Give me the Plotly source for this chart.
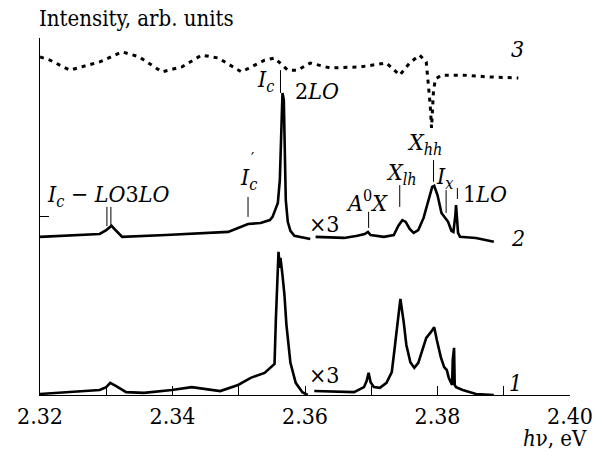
import plotly.graph_objects as go

# ---------------- data ----------------
e1a = [2.3200, 2.3290, 2.3300, 2.3306, 2.3315, 2.3330, 2.3357, 2.3399, 2.3429, 2.3472,
       2.3499, 2.3518, 2.3539, 2.3554, 2.3556, 2.3559, 2.3560, 2.3562, 2.3563, 2.3566,
       2.3569, 2.3572, 2.3575, 2.3578, 2.3586, 2.3596, 2.3604]
i1a = [0.03, 0.14, 0.22, 0.34, 0.25, 0.08, 0.06, 0.14, 0.22, 0.11,
       0.28, 0.48, 0.62, 0.87, 2.10, 3.73, 4.01, 3.56, 3.84, 3.36,
       2.80, 1.96, 1.40, 0.90, 0.34, 0.08, 0.00]
e1b = [2.3614, 2.3674, 2.3689, 2.3693, 2.3696, 2.3699, 2.3704, 2.3713, 2.3723, 2.3731,
       2.3735, 2.3740, 2.3744, 2.3749, 2.3753, 2.3759, 2.3765, 2.3771, 2.3777, 2.3783,
       2.3790, 2.3795, 2.3799, 2.3805, 2.3810, 2.3814, 2.3817, 2.3820, 2.3822, 2.3823,
       2.3825, 2.3826, 2.3828, 2.3838, 2.3858, 2.3885]
i1b = [0.11, 0.08, 0.22, 0.39, 0.62, 0.36, 0.22, 0.20, 0.34, 0.64,
       1.26, 2.10, 2.69, 2.04, 1.40, 0.92, 0.76, 0.90, 1.26, 1.60,
       1.76, 1.90, 1.54, 1.06, 0.78, 0.70, 0.48, 0.34, 0.28, 0.98,
       1.32, 0.28, 0.22, 0.14, 0.03, 0.00]

offset2 = 4.4
e2a = [2.3200, 2.3290, 2.3300, 2.3308, 2.3315, 2.3324, 2.3390, 2.3484, 2.3499, 2.3514,
       2.3533, 2.3547, 2.3551, 2.3559, 2.3562, 2.3563, 2.3565, 2.3566, 2.3568, 2.3569,
       2.3571, 2.3574, 2.3578, 2.3584, 2.3608]
i2a = [0.03, 0.11, 0.22, 0.34, 0.20, 0.03, 0.08, 0.17, 0.28, 0.39,
       0.42, 0.50, 0.59, 0.98, 1.62, 2.46, 3.59, 4.06, 3.87, 2.46,
       1.06, 0.45, 0.20, 0.06, -0.03]
e2b = [2.3616, 2.3659, 2.3679, 2.3690, 2.3695, 2.3699, 2.3719, 2.3734, 2.3741, 2.3747,
       2.3752, 2.3758, 2.3764, 2.3771, 2.3779, 2.3786, 2.3792, 2.3795, 2.3800, 2.3806,
       2.3812, 2.3816, 2.3821, 2.3824, 2.3827, 2.3828, 2.3831, 2.3834, 2.3858, 2.3885]
i2b = [0.03, 0.00, 0.06, 0.11, 0.17, 0.08, 0.03, 0.08, 0.34, 0.50,
       0.45, 0.25, 0.14, 0.22, 0.56, 1.06, 1.43, 1.46, 1.20, 0.70,
       0.56, 0.45, 0.20, 0.17, 0.64, 0.92, 0.14, 0.03, 0.00, -0.11]

e3 = [2.3200, 2.3215, 2.3245, 2.3290, 2.3324, 2.3350, 2.3384, 2.3414, 2.3444, 2.3469,
      2.3504, 2.3539, 2.3554, 2.3574, 2.3589, 2.3608, 2.3638, 2.3683, 2.3723, 2.3743,
      2.3758, 2.3773, 2.3783, 2.3786, 2.3789, 2.3791, 2.3792, 2.3794, 2.3797, 2.3806,
      2.3839, 2.3877, 2.3922]
i3 = [9.47, 9.38, 9.10, 9.33, 9.61, 9.47, 9.05, 9.19, 9.52, 9.44,
      9.05, 9.38, 9.44, 9.10, 9.10, 9.30, 9.16, 9.19, 9.30, 8.96,
      9.30, 9.52, 9.33, 8.82, 8.12, 7.48, 7.98, 8.54, 8.85, 8.96,
      8.96, 8.91, 8.88]

x_tickvals = [2.32, 2.33, 2.34, 2.35, 2.36, 2.37, 2.38, 2.39, 2.40]
x_ticktext = ["2.32", "", "2.34", "", "2.36", "", "2.38", "", "2.40"]
y_tickvals = [0, 4.99, 10.0]

# --------------- figure ---------------
FONT = "DejaVu Serif Condensed"
FS = 22
FS_IN = 23
solid = dict(color="black", width=2.6)

fig = go.Figure()
fig.add_trace(go.Scatter(x=e1a, y=i1a, mode="lines", line=solid))
fig.add_trace(go.Scatter(x=e1b, y=i1b, mode="lines", line=solid))
fig.add_trace(go.Scatter(x=e2a, y=[v + offset2 for v in i2a], mode="lines", line=solid))
fig.add_trace(go.Scatter(x=e2b, y=[v + offset2 for v in i2b], mode="lines", line=solid))
fig.add_trace(go.Scatter(x=e3, y=i3, mode="lines",
                         line=dict(color="black", width=3, dash="4px,5px")))

markers = [(2.3301, 4.73, 5.27), (2.3307, 4.73, 5.27), (2.3514, 4.99, 5.55),
           (2.3563, 8.46, 9.10), (2.3696, 4.68, 5.13), (2.3743, 5.27, 5.88),
           (2.3794, 5.97, 6.58), (2.3813, 5.10, 5.74), (2.3830, 5.49, 5.80)]
for xm, y0, y1 in markers:
    fig.add_shape(type="line", xref="x", yref="y", x0=xm, x1=xm, y0=y0, y1=y1,
                  line=dict(color="black", width=1))

labels = [
    (2.3207, 5.58, "<i>I</i><sub><i>c</i></sub> − <i>LO</i>3<i>LO</i>", "left"),
    (2.3514, 6.05, "<i>I</i><sub><i>c</i></sub>", "center"),
    (2.3541, 8.80, "<i>I</i><sub><i>c</i></sub>", "center"),
    (2.3618, 8.52, "2<i>LO</i>", "center"),
    (2.3629, 4.80, "×3", "center"),
    (2.3629, 0.57, "×3", "center"),
    (2.3693, 5.44, "<i>A</i><sup>0</sup><i>X</i>", "center"),
    (2.3746, 6.20, "<i>X</i><sub><i>lh</i></sub>", "center"),
    (2.3780, 7.04, "<i>X</i><sub><i>hh</i></sub>", "center"),
    (2.3810, 6.09, "<i>I</i><sub><i>x</i></sub>", "center"),
    (2.3872, 5.64, "1<i>LO</i>", "center"),
    (2.3921, 9.70, "<i>3</i>", "center"),
    (2.3921, 4.41, "<i>2</i>", "center"),
    (2.3918, 0.34, "<i>1</i>", "center"),
]
for x, y, t, anc in labels:
    fig.add_annotation(x=x, y=y, xref="x", yref="y", text=t, showarrow=False,
                       xanchor=anc, yanchor="middle",
                       font=dict(family=FONT, size=FS_IN, color="black"))
fig.add_annotation(x=2.3521, y=6.62, xref="x", yref="y", text="′", showarrow=False,
                   font=dict(family=FONT, size=16, color="black"))

fig.add_annotation(x=-0.006, y=1.056, xref="paper", yref="paper",
                   text="Intensity, arb. units", showarrow=False,
                   xanchor="left", yanchor="middle",
                   font=dict(family=FONT, size=FS, color="black"))
fig.add_annotation(x=1.036, y=-0.122, xref="paper", yref="paper",
                   text="<i>h</i>ν, eV", showarrow=False,
                   xanchor="right", yanchor="middle",
                   font=dict(family=FONT, size=FS, color="black"))

fig.update_layout(
    width=605, height=453,
    margin=dict(l=40, r=30, t=38, b=58),
    paper_bgcolor="white", plot_bgcolor="white",
    showlegend=False,
    font=dict(family=FONT, size=FS, color="black"),
    xaxis=dict(range=[2.32, 2.40], tickvals=x_tickvals, ticktext=x_ticktext,
               ticks="inside", ticklen=9, tickwidth=1, tickcolor="black",
               showline=True, linecolor="black", linewidth=1,
               showgrid=False, zeroline=False,
               tickfont=dict(family=FONT, size=FS_IN, color="black")),
    yaxis=dict(range=[0, 10.0], tickvals=y_tickvals, showticklabels=False,
               ticks="inside", ticklen=9, tickwidth=1, tickcolor="black",
               showline=True, linecolor="black", linewidth=1,
               showgrid=False, zeroline=False),
)

fig.write_html("out.html")
